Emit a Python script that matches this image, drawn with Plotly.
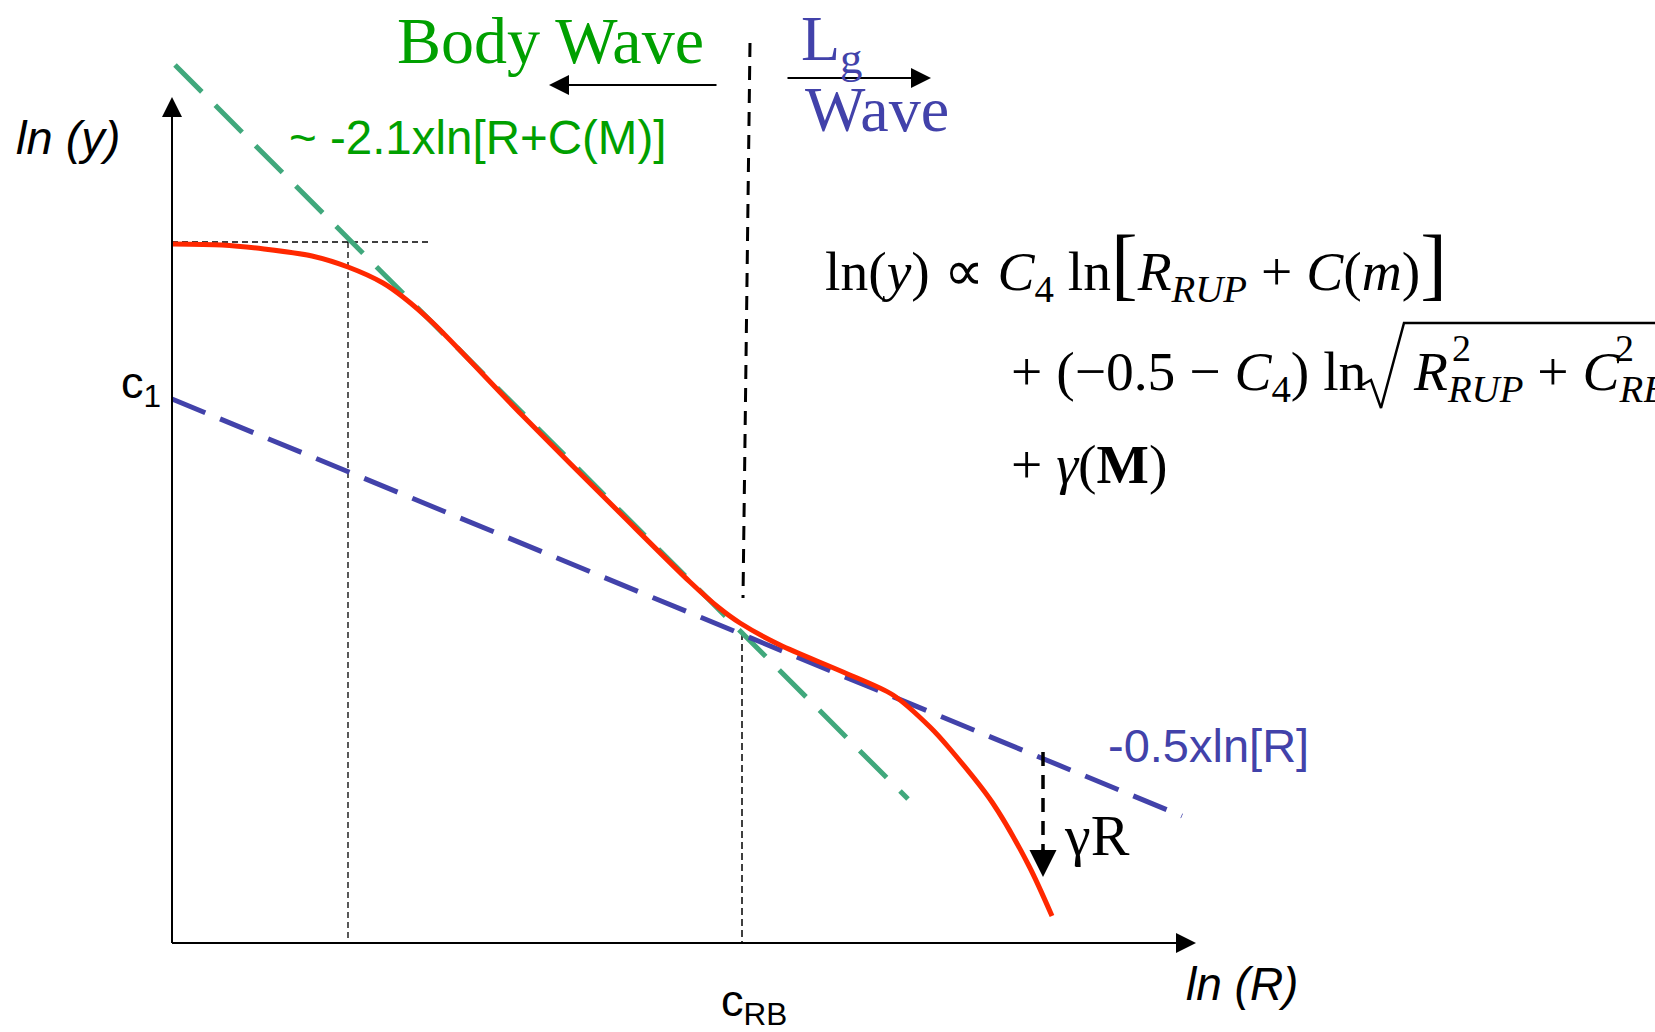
import plotly.graph_objects as go

# ---- schematic data (x = ln R, y = ln y, arbitrary units) ----
red_x = [0.0, 0.5, 0.92, 1.4, 1.76, 2.11, 2.31, 2.61, 3.5, 4.5, 5.18, 5.46, 5.68, 6.08, 6.71, 7.21, 7.58, 7.78, 8.20, 8.57, 8.80]
red_y = [6.99, 6.98, 6.94, 6.87, 6.76, 6.60, 6.46, 6.20, 5.28, 4.28, 3.61, 3.36, 3.20, 2.98, 2.71, 2.48, 2.16, 1.94, 1.41, 0.77, 0.27]

body_x = [0.03, 7.36]      # ~ -2.1 x ln[R+C(M)] asymptote
body_y = [8.78, 1.44]
lg_x = [0.0, 10.10]        # -0.5 x ln[R] asymptote
lg_y = [5.44, 1.27]

guide_h_x = [0.0, 2.57]    # horizontal guide at plateau
guide_h_y = [7.01, 7.01]
guide_v1_x = [1.76, 1.76]
guide_v1_y = [7.01, 0.0]
crb_x = [5.70, 5.70]
crb_y = [3.10, 0.0]
split_x = [5.78, 5.71]     # body / Lg boundary
split_y = [9.00, 3.45]
gamma_x = [8.71, 8.71]
gamma_y = [1.91, 0.92]

x_axis_end = 10.24
y_axis_end = 8.46

# radical sign of the formula (glyph outline)
rad_x = [11.90, 11.99, 12.09, 12.32, 14.90]
rad_y = [5.58, 5.63, 5.35, 6.20, 6.20]

GREEN_TXT = "rgb(0,160,0)"
GREEN_LN = "rgb(64,168,124)"
BLUE = "rgb(66,66,170)"
RED = "rgb(255,40,0)"
SERIF = "Liberation Serif"
SANS = "Liberation Sans"

fig = go.Figure()

def line(x, y, color, width, dash="solid"):
    fig.add_trace(go.Scatter(x=x, y=y, mode="lines", hoverinfo="skip",
                             line=dict(color=color, width=width, dash=dash)))

# axes
line([0, x_axis_end - 0.1], [0, 0], "black", 2)
line([0, 0], [0, y_axis_end - 0.1], "black", 2)
# guides
line(guide_h_x, guide_h_y, "black", 1.3, "6px,4px")
line(guide_v1_x, guide_v1_y, "black", 1.3, "6px,4px")
line(crb_x, crb_y, "black", 1.5, "7px,4px")
line(split_x, split_y, "black", 3, "14px,9px")
# asymptotes
line(body_x, body_y, GREEN_LN, 5, "38px,19px")
line(lg_x, lg_y, BLUE, 5, "36px,16px")
# model curve
fig.add_trace(go.Scatter(x=red_x, y=red_y, mode="lines", hoverinfo="skip",
                         line=dict(color=RED, width=5, shape="spline", smoothing=0.8)))
# gamma R dashed
line(gamma_x, gamma_y, "black", 3.5, "14px,9px")
# radical
line(rad_x, rad_y, "black", 2.5)

def arrow(x, y, ax, ay, width=2, size=2.0):
    fig.add_annotation(x=x, y=y, ax=ax, ay=ay, xref="x", yref="y", axref="x", ayref="y",
                       text="", showarrow=True, arrowhead=2, arrowsize=size,
                       arrowwidth=width, arrowcolor="black", standoff=0, startstandoff=0)

arrow(x_axis_end, 0, 0, 0)
arrow(0, y_axis_end, 0, 0)
arrow(3.77, 8.58, 5.46, 8.58)
arrow(7.59, 8.65, 6.14, 8.65)
arrow(8.71, 0.66, 8.71, 0.95, width=3, size=1.8)

def text(x, y, s, size, color="black", family=SANS, xanchor="center", yanchor="middle"):
    fig.add_annotation(x=x, y=y, xref="x", yref="y", text=s, showarrow=False,
                       font=dict(size=size, color=color, family=family),
                       xanchor=xanchor, yanchor=yanchor, borderpad=0)

text(-1.04, 8.06, "<i>ln (y)</i>", 47)
text(10.70, -0.41, "<i>ln (R)</i>", 46)
text(-0.10, 5.58, "c<sub>1</sub>", 45, xanchor="right")
text(5.82, -0.60, "c<sub>RB</sub>", 45)
text(3.78, 9.03, "Body Wave", 66, GREEN_TXT, SERIF)
text(6.28, 9.00, "L<sub>g</sub>", 64, BLUE, SERIF, xanchor="left")
text(7.05, 8.34, "Wave", 64, BLUE, SERIF)
text(3.05, 8.06, "~ -2.1xln[R+C(M)]", 47.5, GREEN_TXT)
text(10.36, 1.98, "-0.5xln[R]", 47, BLUE)
text(9.25, 1.08, "γR", 58, "black", SERIF)

big = '<span style="font-size:80px">%s</span>'
eq1 = ('ln(<i>y</i>) ∝ <i>C</i><sub>4</sub> ln' + big % '[' +
       '<i>R</i><sub><i>RUP</i></sub> + <i>C</i>(<i>m</i>)' + big % ']')
eq2 = '+ (−0.5 − <i>C</i><sub>4</sub>) ln'
eq2b = '<i>R</i><sub><i>RUP</i></sub> + <i>C</i><sub><i>RB</i></sub>'
eq3 = '+ <i>γ</i>(<b>M</b>)'
text(6.52, 6.79, eq1, 55.5, family=SERIF, xanchor="left")
text(8.38, 5.68, eq2, 55.5, family=SERIF, xanchor="left")
text(12.40, 5.68, eq2b, 55.5, family=SERIF, xanchor="left")
text(12.89, 5.95, "2", 38, family=SERIF)
text(14.52, 5.95, "2", 38, family=SERIF)
text(8.38, 4.79, eq3, 55.5, family=SERIF, xanchor="left")

fig.update_layout(
    width=1655, height=1032, margin=dict(l=0, r=0, t=0, b=0),
    paper_bgcolor="white", plot_bgcolor="white", showlegend=False,
    xaxis=dict(range=[-1.72, 14.83], visible=False, fixedrange=True),
    yaxis=dict(range=[-0.89, 9.43], visible=False, fixedrange=True),
)
fig.write_html("out.html")
